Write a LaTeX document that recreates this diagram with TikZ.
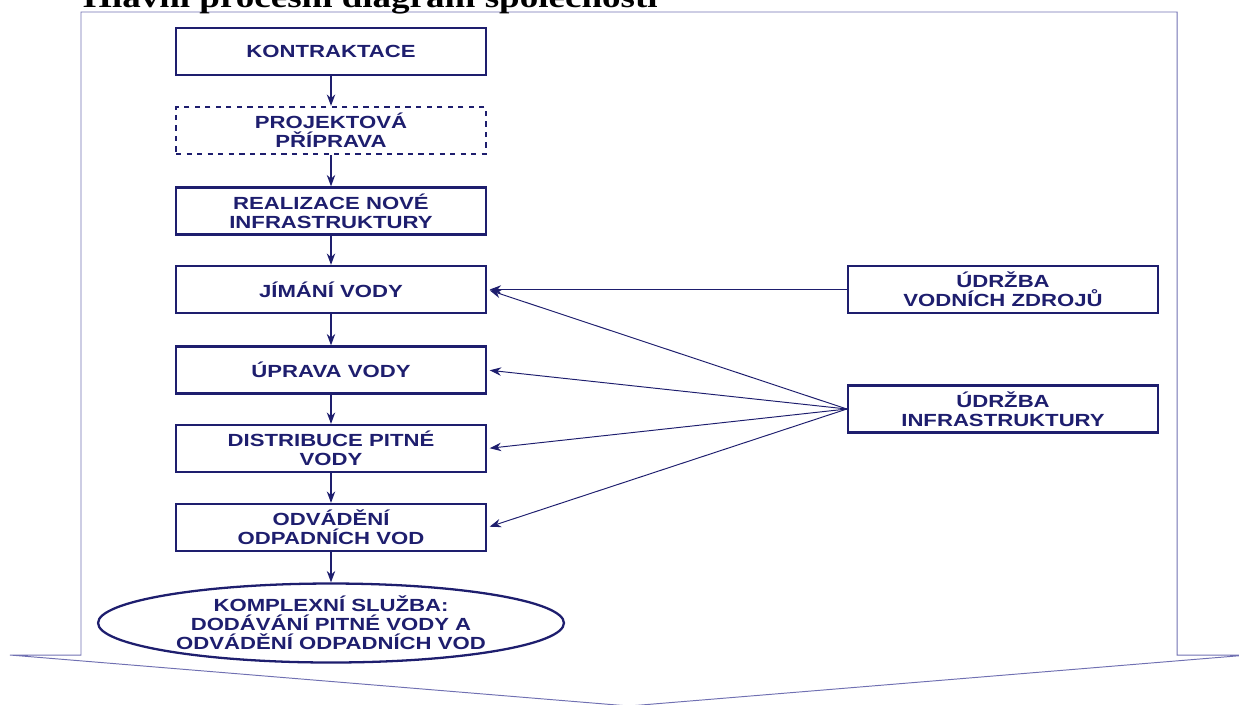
\documentclass[tikz,border=0pt]{standalone}
\usepackage{fontspec}
\usepackage{tikz}
\usetikzlibrary{shapes.geometric,arrows.meta}
\newfontfamily\boxfont{Liberation Sans}[FakeStretch=1.26]
\newfontfamily\titlefont{Liberation Serif}[FakeStretch=1.24]
\definecolor{navy}{RGB}{30,30,110}
\definecolor{framecol}{RGB}{112,112,178}

\begin{document}
\begin{tikzpicture}[x=0.02cm, y=-0.02cm,
    boxtext/.style={text=navy, align=center, inner sep=0pt, font=\boxfont\bfseries\fontsize{10}{10.8}\selectfont},
    stepbox/.style={boxtext, draw=navy, line width=1.3pt, minimum width=6.2cm, minimum height=0.94cm},
    flow/.style={draw=navy, line width=0.8pt, -{Stealth[length=6.5pt,width=4.8pt]}},
    side/.style={draw=navy, line width=0.55pt, -{Stealth[length=6.5pt,width=4.8pt]}, shorten >=1.5pt}]
        \clip (0,0) rectangle (1239,704);
        \draw[framecol, line width=0.55pt] (10,655) -- (81,655) -- (81,12) -- (1177,12) -- (1177,655) -- (1248,655) -- (629,706) -- cycle;
        \node[anchor=base west, font=\titlefont\bfseries\fontsize{17}{20}\selectfont] (title) at (77,7) {Hlavní procesní diagram společnosti};
        \node[stepbox] (kontrakt) at (331,51.5) {KONTRAKTACE};
        \node[stepbox, dashed] (priprava) at (331,130.5) {PROJEKTOVÁ\\PŘÍPRAVA};
        \node[stepbox] (realizace) at (331,211) {REALIZACE NOVÉ\\INFRASTRUKTURY};
        \node[stepbox] (jimani) at (331,289.5) {JÍMÁNÍ VODY};
        \node[stepbox] (uprava) at (331,370) {ÚPRAVA VODY};
        \node[stepbox] (distrib) at (331,448.5) {DISTRIBUCE PITNÉ\\VODY};
        \node[stepbox] (odvad) at (331,527.5) {ODVÁDĚNÍ\\ODPADNÍCH VOD};
        \node[boxtext, ellipse, draw=navy, line width=1.3pt, minimum width=9.32cm, minimum height=1.58cm] (sluzba) at (331,623) {KOMPLEXNÍ SLUŽBA:\\DODÁVÁNÍ PITNÉ VODY A\\ODVÁDĚNÍ ODPADNÍCH VOD};
        \node[stepbox] (zdroje) at (1003,289.5) {ÚDRŽBA\\VODNÍCH ZDROJŮ};
        \node[stepbox] (infra) at (1003,409) {ÚDRŽBA\\INFRASTRUKTURY};
        \draw[flow] (kontrakt) -- (priprava);
        \draw[flow] (priprava) -- (realizace);
        \draw[flow] (realizace) -- (jimani);
        \draw[flow] (jimani) -- (uprava);
        \draw[flow] (uprava) -- (distrib);
        \draw[flow] (distrib) -- (odvad);
        \draw[flow] (odvad) -- (sluzba);
        \draw[side] (zdroje.west) -- (jimani.east);
        \draw[side] (infra.west) -- (jimani.east);
        \draw[side] (infra.west) -- (uprava.east);
        \draw[side] (infra.west) -- (distrib.east);
        \draw[side] (infra.west) -- (odvad.east);
\end{tikzpicture}
\end{document}
